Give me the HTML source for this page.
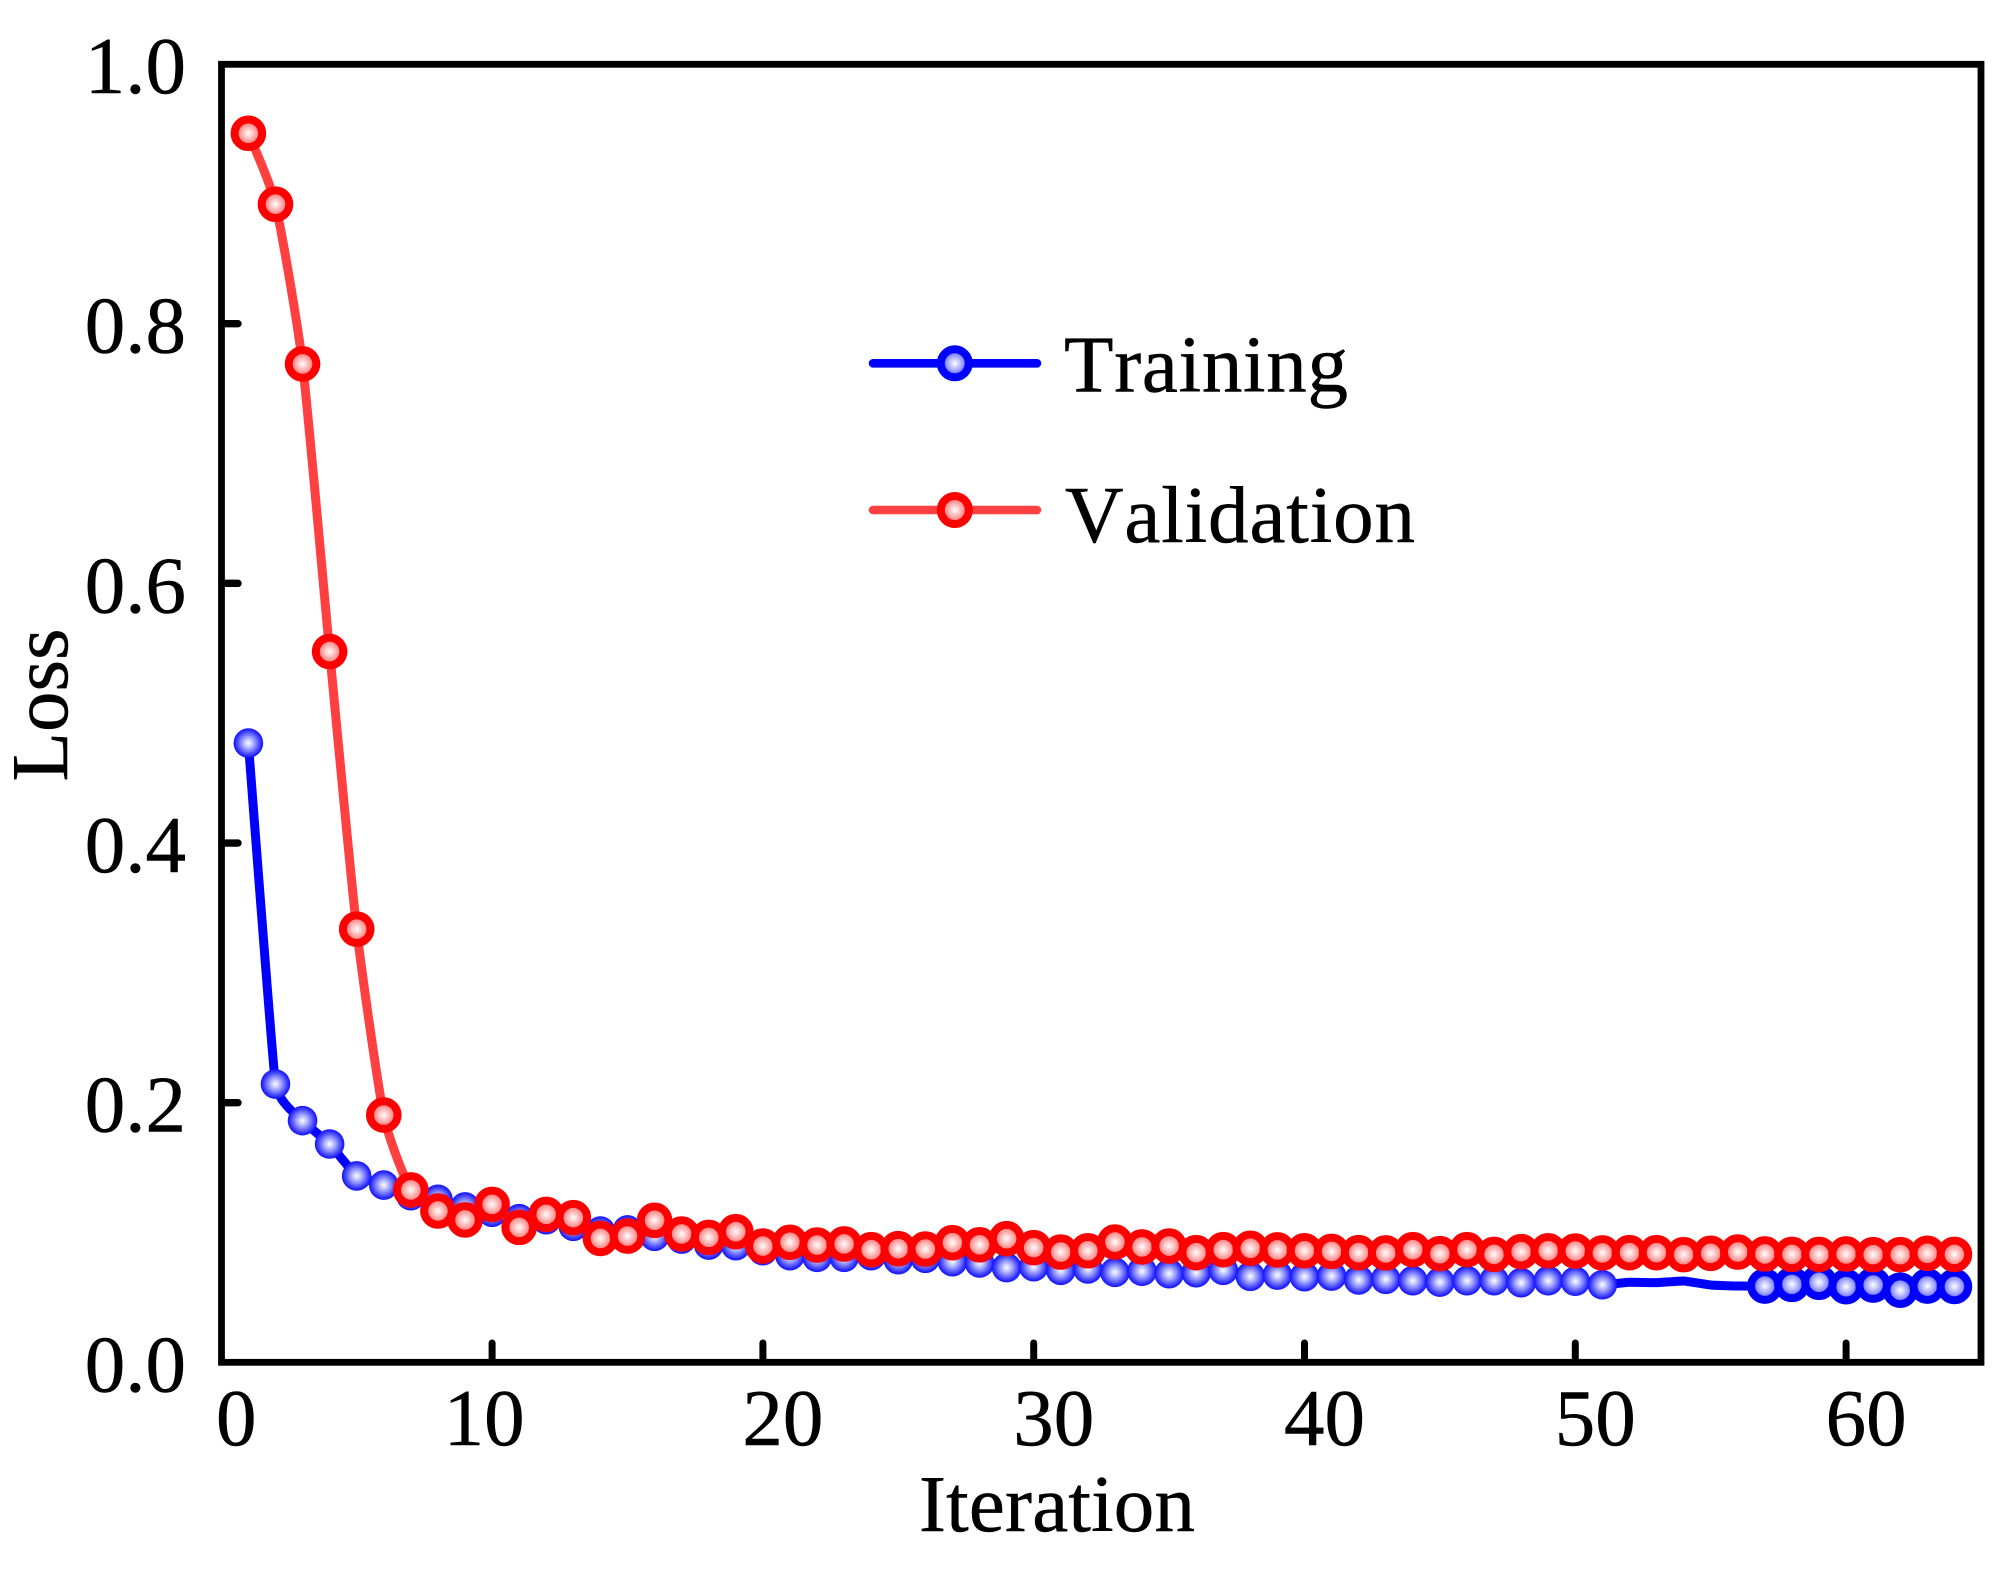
<!DOCTYPE html>
<html lang="en">
<head>
<meta charset="utf-8">
<title>Loss vs Iteration</title>
<style>
html,body{margin:0;padding:0;background:#fff;}
svg{display:block;}
text{font-family:"Liberation Serif","Times New Roman",serif;fill:#000;stroke:#000;stroke-width:0.5px;font-size:81px;font-kerning:none;}
</style>
</head>
<body>
<svg id="chart" xmlns="http://www.w3.org/2000/svg" width="2014" height="1571" viewBox="0 0 2014 1571">
  <defs>
    <radialGradient id="blueFill"><stop offset="0" stop-color="#ffffff"/><stop offset="0.4" stop-color="#a0a4ff"/><stop offset="0.8" stop-color="#3c3cff"/><stop offset="1" stop-color="#1010ff"/></radialGradient>
    <radialGradient id="blueCore"><stop offset="0" stop-color="#ffffff"/><stop offset="0.5" stop-color="#a4a8ff"/><stop offset="1" stop-color="#4444ff"/></radialGradient>
    <radialGradient id="redCore"><stop offset="0" stop-color="#ffffff"/><stop offset="0.5" stop-color="#ffaaaa"/><stop offset="1" stop-color="#ff5555"/></radialGradient>
  </defs>
  <rect x="0" y="0" width="2014" height="1571" fill="#fff"/>
  <g id="series"></g>
  <rect x="221.5" y="64.3" width="1759.5" height="1298" fill="none" stroke="#000" stroke-width="6.8"/>
  <g id="ticks"></g>
  <text x="919" y="1531" textLength="276">Iteration</text>
  <text transform="translate(67,705) rotate(-90)" text-anchor="middle">Loss</text>

  <g>
    <g>
      <line x1="873" y1="363.3" x2="1037" y2="363.3" stroke="#0000ff" stroke-width="8.6" stroke-linecap="round"/>
      <circle cx="954.8" cy="363.3" r="14" fill="url(#blueCore)" stroke="#0000ff" stroke-width="8"/>
      <text x="1064" y="391.7" textLength="284">Training</text>
    </g>
    <g>
      <line x1="873" y1="510" x2="1037" y2="510" stroke="#ff4040" stroke-width="8.6" stroke-linecap="round"/>
      <circle cx="954.8" cy="510" r="14" fill="url(#redCore)" stroke="#ff0000" stroke-width="8"/>
      <text x="1065" y="542" textLength="350">Validation</text>
    </g>
  </g>
</svg>
<script>
const iterations = [1,2,3,4,5,6,7,8,9,10,11,12,13,14,15,16,17,18,19,20,21,22,23,24,25,26,27,28,29,30,31,32,33,34,35,36,37,38,39,40,41,42,43,44,45,46,47,48,49,50,51,52,53,54,55,56,57,58,59,60,61,62,63,64];
const trainingLoss = [0.477,0.2144,0.1862,0.1682,0.1436,0.1366,0.1284,0.1256,0.1197,0.1156,0.1107,0.1099,0.1048,0.1012,0.102,0.0971,0.095,0.0904,0.0899,0.086,0.0822,0.0809,0.0809,0.0822,0.0791,0.0802,0.0776,0.0766,0.073,0.0737,0.0709,0.072,0.0694,0.0702,0.0683,0.0691,0.0709,0.0663,0.0673,0.066,0.0665,0.0635,0.064,0.0629,0.0619,0.0629,0.0629,0.0614,0.0629,0.0625,0.0598,0.0617,0.0614,0.0627,0.0596,0.0588,0.0588,0.0601,0.0617,0.0583,0.0596,0.0556,0.0588,0.0585];
const validationLoss = [0.9466,0.892,0.769,0.5475,0.3337,0.1905,0.1328,0.1166,0.1097,0.1217,0.104,0.114,0.1115,0.0955,0.0973,0.1094,0.0989,0.0963,0.1007,0.0896,0.0925,0.0904,0.0912,0.0868,0.0876,0.0873,0.0922,0.0906,0.0953,0.0884,0.085,0.086,0.0927,0.0889,0.0896,0.0845,0.0868,0.0879,0.0866,0.086,0.0855,0.0845,0.0843,0.0868,0.0837,0.0868,0.0832,0.0853,0.086,0.0858,0.0843,0.0845,0.0845,0.083,0.084,0.085,0.0835,0.0832,0.0832,0.0835,0.083,0.083,0.084,0.0832];
const xTickValues = [0,10,20,30,40,50,60];
const xTickLabels = ["0","10","20","30","40","50","60"];
const yTickValues = [0,0.2,0.4,0.6,0.8,1];
const yTickLabels = ["0.0","0.2","0.4","0.6","0.8","1.0"];

const NS = 'http://www.w3.org/2000/svg';
function xScale(v){ return 221.3 + 27.08 * v; }
function yScale(v){ return 1362.4 - 1298.4 * v; }
function make(tag, attrs){
  const el = document.createElementNS(NS, tag);
  for (const k in attrs) el.setAttribute(k, attrs[k]);
  return el;
}
function smoothPath(xs, ys, soft){
  const p = xs.map((x, i) => [xScale(x), yScale(ys[i])]);
  let d = 'M' + p[0][0] + ' ' + p[0][1];
  for (let i = 0; i < p.length - 1; i++){
    const a = p[Math.max(i - 1, 0)], b = p[i], c = p[i + 1], e = p[Math.min(i + 2, p.length - 1)];
    const c1x = b[0] + (c[0] - a[0]) / soft, c1y = b[1] + (c[1] - a[1]) / soft;
    const c2x = c[0] - (e[0] - b[0]) / soft, c2y = c[1] - (e[1] - b[1]) / soft;
    d += 'C' + c1x + ' ' + c1y + ' ' + c2x + ' ' + c2y + ' ' + c[0] + ' ' + c[1];
  }
  return d;
}
function xLabelOffset(t){ return t === 0 ? 15 : (t === 10 ? -8 : 20); }

const seriesGroup = document.getElementById('series');
const tickGroup = document.getElementById('ticks');

const trainingLine = make('path', {d: smoothPath(iterations, trainingLoss, 20), fill: 'none', stroke: '#0000ff', 'stroke-width': 9, 'stroke-linejoin': 'round'});


seriesGroup.appendChild(trainingLine);

iterations.forEach((it, i) => {
  if (it >= 52 && it <= 56) return;
  const heavy = it >= 57;
  const dot = make('circle', heavy
    ? {cx: xScale(it), cy: yScale(trainingLoss[i]), r: 13.8, fill: 'url(#blueCore)', stroke: '#0000ff', 'stroke-width': 8}
    : {cx: xScale(it), cy: yScale(trainingLoss[i]), r: 14.8, fill: 'url(#blueFill)'});
  
  
  seriesGroup.appendChild(dot);
});

const validationLine = make('path', {d: smoothPath(iterations, validationLoss, 10), fill: 'none', stroke: '#ff4040', 'stroke-width': 9, 'stroke-linejoin': 'round'});


seriesGroup.appendChild(validationLine);

iterations.forEach((it, i) => {
  const dot = make('circle', {cx: xScale(it), cy: yScale(validationLoss[i]), r: 13.8, fill: 'url(#redCore)', stroke: '#ff0000', 'stroke-width': 8});
  
  
  seriesGroup.appendChild(dot);
});

xTickValues.forEach((t, i) => {
  if (t !== 0){
    const tick = make('line', {x1: xScale(t), x2: xScale(t), y1: 1362, y2: 1343, stroke: '#000', 'stroke-width': 7, 'stroke-linecap': 'round'});
    
    
    tickGroup.appendChild(tick);
  }
  const label = make('text', {x: xScale(t) + xLabelOffset(t), y: 1445, 'text-anchor': 'middle'});
  label.textContent = xTickLabels[i];
  
  
  tickGroup.appendChild(label);
});

yTickValues.forEach((t, i) => {
  if (t !== 0 && t !== 1){
    const tick = make('line', {x1: 222, x2: 238, y1: yScale(t), y2: yScale(t), stroke: '#000', 'stroke-width': 7.4, 'stroke-linecap': 'round'});
    
    
    tickGroup.appendChild(tick);
  }
  const label = make('text', {x: 186, y: yScale(t) + 29, 'text-anchor': 'end'});
  label.textContent = yTickLabels[i];
  
  
  tickGroup.appendChild(label);
});
</script>
</body>
</html>
